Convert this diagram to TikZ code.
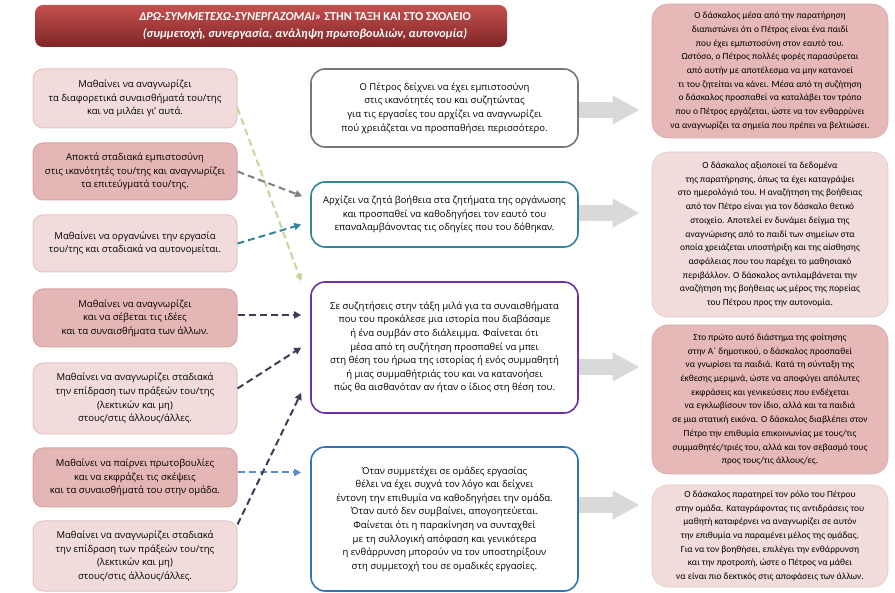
\documentclass[tikz,border=0pt]{standalone}
\usepackage{fontspec}
\setmainfont{Open Sans}
\newfontfamily\calfont{Carlito}
\usepackage{tikz}
\usetikzlibrary{arrows.meta}
\definecolor{hdrtop}{HTML}{C4504E}
\definecolor{hdrbot}{HTML}{7E2626}
\definecolor{goalfill}{HTML}{F2DCDB}
\definecolor{goalline}{HTML}{E6C3C3}
\definecolor{goalfill2}{HTML}{E4B6B6}
\definecolor{goalline2}{HTML}{D9A5A5}
\definecolor{notefill}{HTML}{E6B9B8}
\definecolor{notefill2}{HTML}{F2DCDB}
\definecolor{obsgray}{HTML}{767676}
\definecolor{obsteal}{HTML}{31859C}
\definecolor{obspurple}{HTML}{7030A0}
\definecolor{obsblue}{HTML}{2E75B6}
\definecolor{lnkgreen}{HTML}{C4D79B}
\definecolor{lnkgray}{HTML}{7F7F7F}
\definecolor{lnkdark}{HTML}{433A58}
\definecolor{lnkblue}{HTML}{5B8BD0}
\definecolor{fatgray}{HTML}{D9D9D9}
\tikzset{
  % --- left column: what the child learns ---
  goal/.style={draw=goalline, fill=goalfill, line width=1pt, rounded corners=10pt,
               align=center, minimum width=204pt, inner sep=3pt,
               font=\fontsize{9.5}{13.6}\selectfont},
  goal2/.style={goal, fill=goalfill2, draw=goalline2},
  % --- middle column: what Petros does ---
  obs/.style={draw=obsgray, fill=white, line width=1.6pt, rounded corners=14pt,
              align=center, minimum width=267pt, inner sep=3pt,
              font=\fontsize{9.5}{13.6}\selectfont},
  % --- right column: the teacher's reading ---
  note/.style={draw=notefill!92!black, fill=notefill, line width=0.6pt,
               rounded corners=16pt, align=center, minimum width=236pt, inner sep=3pt,
               font=\calfont\fontsize{9.4}{13.7}\selectfont},
  note2/.style={note, fill=notefill2, draw=notefill2!92!black},
  % --- dashed links (left -> middle) and block arrows (middle -> right) ---
  lnk/.style={line width=2pt, dash pattern=on 7pt off 4pt,
              -{Triangle[length=7pt,width=7pt]}},
  fat/.style={draw=fatgray, line width=16pt, -{Triangle[length=27pt,width=27pt]},
              shorten >=12pt},
}

\begin{document}
\begin{tikzpicture}[x=1pt, y=-1pt]
  \useasboundingbox (0,0) rectangle (895,593);

  % --- heading band ---
  \node[rounded corners=8pt, top color=hdrtop, bottom color=hdrbot,
        minimum width=472pt, minimum height=42pt] (hdr) at (271,26) {};
  \node[font=\calfont\bfseries\fontsize{12.2}{17}\selectfont, text=white, align=center] (ttl) at (305,26)
        {{\itshape ΔΡΩ-ΣΥΜΜΕΤΕΧΩ-ΣΥΝΕΡΓΑΖΟΜΑΙ»} ΣΤΗΝ ΤΑΞΗ ΚΑΙ ΣΤΟ ΣΧΟΛΕΙΟ\\
         {\itshape (συμμετοχή, συνεργασία, ανάληψη πρωτοβουλιών, αυτονομία)}};

  % --- left column ---
  \node[goal,  minimum height=59pt] (l1) at (135,98.5)
        {Μαθαίνει να αναγνωρίζει\\τα διαφορετικά συναισθήματά του/της\\και να μιλάει γι’ αυτά.};
  \node[goal2, minimum height=57pt] (l2) at (135,171.5)
        {Αποκτά σταδιακά εμπιστοσύνη\\στις ικανότητές του/της και αναγνωρίζει\\τα επιτεύγματά του/της.};
  \node[goal,  minimum height=57pt] (l3) at (135,243.5)
        {Μαθαίνει να οργανώνει την εργασία\\του/της και σταδιακά να αυτονομείται.};
  \node[goal2, minimum height=58pt] (l4) at (135,318)
        {Μαθαίνει να αναγνωρίζει\\και να σέβεται τις ιδέες\\και τα συναισθήματα των άλλων.};
  \node[goal,  minimum height=71pt] (l5) at (135,398.5)
        {Μαθαίνει να αναγνωρίζει σταδιακά\\την επίδραση των πράξεών του/της\\(λεκτικών και μη)\\στους/στις άλλους/άλλες.};
  \node[goal2, minimum height=59pt] (l6) at (135,477.5)
        {Μαθαίνει να παίρνει πρωτοβουλίες\\και να εκφράζει τις σκέψεις\\και τα συναισθήματά του στην ομάδα.};
  \node[goal,  minimum height=70pt] (l7) at (135,556)
        {Μαθαίνει να αναγνωρίζει σταδιακά\\την επίδραση των πράξεών του/της\\(λεκτικών και μη)\\στους/στις άλλους/άλλες.};

  % --- middle column ---
  \node[obs, minimum height=78pt] (o1) at (444.5,108)
        {Ο Πέτρος δείχνει να έχει εμπιστοσύνη\\στις ικανότητές του και συζητώντας\\για τις εργασίες του αρχίζει να αναγνωρίζει\\πού χρειάζεται να προσπαθήσει περισσότερο.};
  \node[obs, draw=obsteal, minimum height=65pt] (o2) at (444.5,214.5)
        {Αρχίζει να ζητά βοήθεια στα ζητήματα της οργάνωσης\\και προσπαθεί να καθοδηγήσει τον εαυτό του\\επαναλαμβάνοντας τις οδηγίες που του δόθηκαν.};
  \node[obs, draw=obspurple, minimum height=131pt] (o3) at (444.5,347.5)
        {Σε συζητήσεις στην τάξη μιλά για τα συναισθήματα\\που του προκάλεσε μια ιστορία που διαβάσαμε\\ή ένα συμβάν στο διάλειμμα. Φαίνεται ότι\\μέσα από τη συζήτηση προσπαθεί να μπει\\στη θέση του ήρωα της ιστορίας ή ενός συμμαθητή\\ή μιας συμμαθήτριάς του και να κατανοήσει\\πώς θα αισθανόταν αν ήταν ο ίδιος στη θέση του.};
  \node[obs, draw=obsblue, minimum height=144pt] (o4) at (444.5,519)
        {Όταν συμμετέχει σε ομάδες εργασίας\\θέλει να έχει συχνά τον λόγο και δείχνει\\έντονη την επιθυμία να καθοδηγήσει την ομάδα.\\Όταν αυτό δεν συμβαίνει, απογοητεύεται.\\Φαίνεται ότι η παρακίνηση να συνταχθεί\\με τη συλλογική απόφαση και γενικότερα\\η ενθάρρυνση μπορούν να τον υποστηρίξουν\\στη συμμετοχή του σε ομαδικές εργασίες.};

  % --- right column ---
  \node[note, minimum height=134pt] (t1) at (770,71)
        {Ο δάσκαλος μέσα από την παρατήρηση\\διαπιστώνει ότι ο Πέτρος είναι ένα παιδί\\που έχει εμπιστοσύνη στον εαυτό του.\\Ωστόσο, ο Πέτρος πολλές φορές παρασύρεται\\από αυτήν με αποτέλεσμα να μην κατανοεί\\τι του ζητείται να κάνει. Μέσα από τη συζήτηση\\ο δάσκαλος προσπαθεί να καταλάβει τον τρόπο\\που ο Πέτρος εργάζεται, ώστε να τον ενθαρρύνει\\να αναγνωρίζει τα σημεία που πρέπει να βελτιώσει.};
  \node[note2, minimum height=165pt] (t2) at (770,234.5)
        {Ο δάσκαλος αξιοποιεί τα δεδομένα\\της παρατήρησης, όπως τα έχει καταγράψει\\στο ημερολόγιό του. Η αναζήτηση της βοήθειας\\από τον Πέτρο είναι για τον δάσκαλο θετικό\\στοιχείο. Αποτελεί εν δυνάμει δείγμα της\\αναγνώρισης από το παιδί των σημείων στα\\οποία χρειάζεται υποστήριξη και της αίσθησης\\ασφάλειας που του παρέχει το μαθησιακό\\περιβάλλον. Ο δάσκαλος αντιλαμβάνεται την\\αναζήτηση της βοήθειας ως μέρος της πορείας\\του Πέτρου προς την αυτονομία.};
  \node[note, minimum height=149pt] (t3) at (770,399.5)
        {Στο πρώτο αυτό διάστημα της φοίτησης\\στην Α΄ δημοτικού, ο δάσκαλος προσπαθεί\\να γνωρίσει τα παιδιά. Κατά τη σύνταξη της\\έκθεσης μεριμνά, ώστε να αποφύγει απόλυτες\\εκφράσεις και γενικεύσεις που ενδέχεται\\να εγκλωβίσουν τον ίδιο, αλλά και τα παιδιά\\σε μια στατική εικόνα. Ο δάσκαλος διαβλέπει στον\\Πέτρο την επιθυμία επικοινωνίας με τους/τις\\συμμαθητές/τριές του, αλλά και τον σεβασμό τους\\προς τους/τις άλλους/ες.};
  \node[note2, minimum height=102pt] (t4) at (770,536)
        {Ο δάσκαλος παρατηρεί τον ρόλο του Πέτρου\\στην ομάδα. Καταγράφοντας τις αντιδράσεις του\\μαθητή καταφέρνει να αναγνωρίζει σε αυτόν\\την επιθυμία να παραμένει μέλος της ομάδας.\\Για να τον βοηθήσει, επιλέγει την ενθάρρυνση\\και την προτροπή, ώστε ο Πέτρος να μάθει\\να είναι πιο δεκτικός στις αποφάσεις των άλλων.};

  % --- block arrows: observation -> teacher ---
  \foreach \o/\t/\y in {o1/t1/110, o2/t2/213, o3/t3/367, o4/t4/505}
      \draw[fat] (\o.east |- 0,\y) -- (\t.west |- 0,\y);

  % --- dashed links: learning goal -> observation ---
  \draw[lnk, lnkgreen] ([yshift=-9.5pt]l1.east) -- ([xshift=-9pt]o3.north west);
  \draw[lnk, lnkgray]  (l2.east) -- ([xshift=-8pt,yshift=-15pt]o2.north west);
  \draw[lnk, obsteal]  (l3.east) -- ([xshift=-9pt,yshift=-10pt]o2.west);
  \draw[lnk, lnkdark]  ([yshift=3pt]l4.east) -- ([xshift=-9pt,yshift=3pt]l4.east -| o3.west);
  \draw[lnk, lnkdark]  ([yshift=10pt]l5.east) -- ([xshift=-9pt]o3.west);
  \draw[lnk, lnkblue]  ([yshift=5pt]l6.east) -- ([xshift=-9pt,yshift=5pt]l6.east -| o4.west);
  \draw[lnk, lnkdark]  ([yshift=-4pt]l7.north east) -- ([xshift=-9pt,yshift=21pt]o3.south west);
\end{tikzpicture}
\end{document}
